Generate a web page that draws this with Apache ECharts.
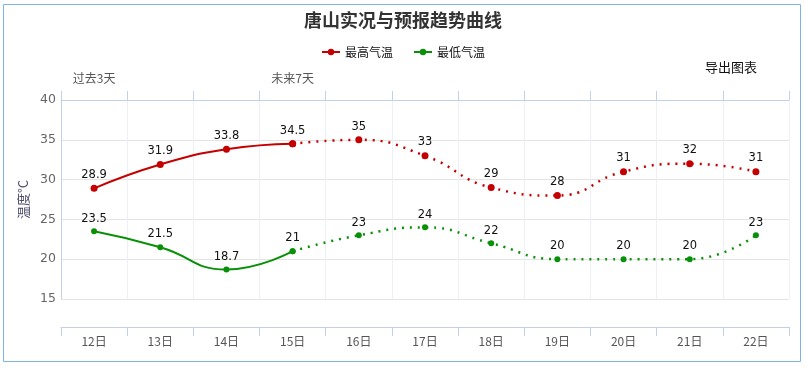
<!DOCTYPE html>
<html><head><meta charset="utf-8">
<style>html,body{margin:0;padding:0;background:#fff}#c{width:806px;height:368px}</style>
<script src="https://cdn.jsdelivr.net/npm/echarts@6/dist/echarts.min.js"></script>
</head><body><div id="c"></div>
<script>
const categories = ['12日','13日','14日','15日','16日','17日','18日','19日','20日','21日','22日'];
const topLabels = ['过去3天','','','未来7天','','','','','','',''];
const highTemps = [28.9, 31.9, 33.8, 34.5, 35, 33, 29, 28, 31, 32, 31];
const lowTemps = [23.5, 21.5, 18.7, 21, 23, 24, 22, 20, 20, 20, 23];
const splitIndex = 3; // last observed day

function part(arr, from, to) {
  return arr.map((v, i) => (i >= from && i <= to) ? v : '-');
}
const FONT = '"DejaVu Sans", "Noto Sans CJK SC", sans-serif';
const CJK = '"Noto Sans CJK SC", sans-serif';
const chart = echarts.init(document.getElementById('c'));
const labelOpt = (startIdx) => ({
  show: true, position: 'top', distance: 4, color: '#111', fontSize: 11.5, fontFamily: FONT,
  formatter: p => (p.dataIndex >= startIdx ? p.value : '')
});
chart.setOption({
  animation: false,
  textStyle: { fontFamily: FONT },
  title: {
    text: '唐山实况与预报趋势曲线', left: 'center', top: 6,
    textStyle: { fontSize: 18, fontWeight: 'bold', color: '#333', fontFamily: CJK }
  },
  legend: {
    top: 41, left: 'center', itemWidth: 18, itemHeight: 8, itemGap: 20,
    textStyle: { fontSize: 12, color: '#111', fontFamily: CJK },
    data: ['最高气温', '最低气温']
  },
  graphic: [
    { type: 'rect', shape: { x: 3.5, y: 4.5, width: 797, height: 357 }, style: { fill: 'none', stroke: '#7eb2ea', lineWidth: 1 }, silent: true },
    { type: 'text', left: 705, top: 61, style: { text: '导出图表', fontSize: 13, fill: '#111', fontFamily: CJK } }
  ],
  grid: { left: 61, right: 17, top: 100, bottom: 69 },
  xAxis: [
    {
      type: 'category', data: categories, position: 'bottom', offset: 28, boundaryGap: true,
      axisLine: { lineStyle: { color: '#c3d1e8' } },
      axisTick: { show: true, length: 9, lineStyle: { color: '#c3d1e8' } },
      axisLabel: { color: '#555', fontSize: 12, margin: 8, fontFamily: CJK },
      splitLine: { show: true, lineStyle: { color: '#eef0f5' } }
    },
    {
      type: 'category', data: topLabels, position: 'top', boundaryGap: true,
      axisLine: { lineStyle: { color: '#c3d1e8' } },
      axisTick: { show: true, length: 9, lineStyle: { color: '#c3d1e8' } },
      axisLabel: { color: '#555', fontSize: 12, margin: 16, interval: 0, fontFamily: CJK },
      splitLine: { show: false }
    }
  ],
  yAxis: {
    type: 'value', min: 15, max: 40, interval: 5,
    name: '温度°C', nameLocation: 'middle', nameGap: 17,
    nameTextStyle: { color: '#4b4b6b', fontSize: 13, fontFamily: CJK },
    axisLine: { show: true, lineStyle: { color: '#c3d1e8' } },
    axisTick: { show: false },
    axisLabel: { color: '#666', fontSize: 12.5, margin: 5, fontFamily: FONT },
    splitLine: { lineStyle: { color: '#e4e4e4' } }
  },
  series: [
    {
      name: '最高气温', type: 'line', smooth: true, data: part(highTemps, 0, splitIndex),
      symbol: 'circle', symbolSize: 7, color: '#c40000',
      lineStyle: { width: 2, color: '#c40000' }, itemStyle: { color: '#c40000' },
      label: labelOpt(0)
    },
    {
      name: '最高气温', type: 'line', smooth: true, data: part(highTemps, splitIndex, categories.length - 1),
      symbol: 'circle', symbolSize: 7, color: '#c40000',
      lineStyle: { width: 2.5, color: '#c40000', type: [2, 6], cap: 'butt' }, itemStyle: { color: '#c40000' },
      label: labelOpt(splitIndex + 1)
    },
    {
      name: '最低气温', type: 'line', smooth: true, data: part(lowTemps, 0, splitIndex),
      symbol: 'circle', symbolSize: 6, color: '#089108',
      lineStyle: { width: 2, color: '#089108' }, itemStyle: { color: '#089108' },
      label: labelOpt(0)
    },
    {
      name: '最低气温', type: 'line', smooth: true, data: part(lowTemps, splitIndex, categories.length - 1),
      symbol: 'circle', symbolSize: 6, color: '#089108',
      lineStyle: { width: 2.5, color: '#089108', type: [2, 6], cap: 'butt' }, itemStyle: { color: '#089108' },
      label: labelOpt(splitIndex + 1)
    }
  ]
});
</script></body></html>
